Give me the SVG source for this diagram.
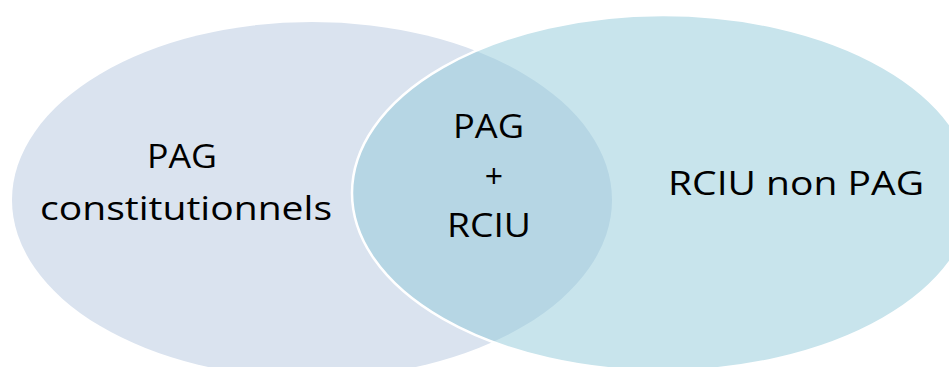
<svg xmlns="http://www.w3.org/2000/svg" width="949" height="367" viewBox="0 0 949 367">
  <style>
    .lbl { font-family: "Open Sans", "Noto Sans", "Liberation Sans", sans-serif; font-size: 32px; fill: #000000; text-anchor: middle; }
  </style>
  <rect x="0" y="0" width="949" height="367" fill="#FFFFFF"/>
  <g id="set-pag-constitutionnels">
    <ellipse cx="312" cy="200" rx="300" ry="178" fill="#DAE3EF"/>
  </g>
  <g id="set-rciu-non-pag">
    <ellipse cx="663" cy="193" rx="311" ry="178" fill="#91C9D9" fill-opacity="0.5" stroke="#FFFFFF" stroke-width="2.5"/>
  </g>
  <g id="label-left">
    <text class="lbl" x="182" y="168" textLength="70" lengthAdjust="spacingAndGlyphs">PAG</text>
    <text class="lbl" x="186" y="220" textLength="292" lengthAdjust="spacingAndGlyphs">constitutionnels</text>
  </g>
  <g id="label-intersection">
    <text class="lbl" x="488.5" y="138" textLength="71" lengthAdjust="spacingAndGlyphs">PAG</text>
    <text class="lbl" x="494" y="188">+</text>
    <text class="lbl" x="489" y="237" textLength="84" lengthAdjust="spacingAndGlyphs">RCIU</text>
  </g>
  <g id="label-right">
    <text class="lbl" x="796" y="195" textLength="256" lengthAdjust="spacingAndGlyphs">RCIU non PAG</text>
  </g>
</svg>
